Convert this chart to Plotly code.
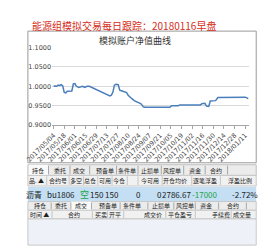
import plotly.graph_objects as go

# ---------------- data ----------------
dates = ["2017-05-04","2017-05-06","2017-05-08","2017-05-10","2017-05-12","2017-05-14",
         "2017-05-16","2017-05-17","2017-05-18","2017-05-20","2017-05-22","2017-05-28",
         "2017-05-30","2017-06-01","2017-06-03","2017-06-06","2017-06-08","2017-06-11",
         "2017-06-14","2017-06-17","2017-06-20","2017-06-23","2017-06-26","2017-06-29",
         "2017-07-02","2017-07-05","2017-07-08","2017-07-11","2017-07-14","2017-07-17",
         "2017-07-19","2017-07-21","2017-07-23","2017-07-25","2017-07-28","2017-07-30",
         "2017-08-02","2017-08-05","2017-08-08","2017-08-10","2017-08-13","2017-08-15",
         "2017-08-18","2017-08-21","2017-08-24","2017-08-27","2017-08-30","2017-09-01",
         "2017-10-04","2017-10-06","2017-10-15","2017-10-17","2017-11-13","2017-11-15",
         "2017-11-19","2017-11-21","2017-11-24","2017-11-26","2017-12-03","2017-12-06",
         "2018-01-11","2018-01-15"]
nav = [1.000,1.001,1.000,1.003,1.002,1.004,
       1.001,0.992,0.984,0.983,0.987,0.988,
       1.006,1.007,1.000,0.997,0.999,1.000,
       0.997,1.000,1.000,0.997,0.995,0.991,
       0.988,0.986,0.983,0.980,0.978,0.975,
       0.977,0.985,1.003,1.005,1.004,0.990,
       0.988,0.986,0.984,0.977,0.973,0.968,
       0.963,0.960,0.957,0.955,0.947,0.946,
       0.946,0.950,0.950,0.952,0.952,0.955,
       0.956,0.949,0.948,0.962,0.963,0.971,
       0.972,0.968]

tick_dates = ["2017-05-04","2017-05-18","2017-06-01","2017-06-15","2017-06-29","2017-07-13",
              "2017-07-27","2017-08-10","2017-08-24","2017-09-07","2017-09-21","2017-10-05",
              "2017-10-19","2017-11-02","2017-11-16","2017-11-30","2017-12-14","2017-12-28",
              "2018-01-11"]
tick_labels = [d.replace("-", "/") for d in tick_dates]

page_title = "能源组模拟交易每日跟踪：20180116早盘"
chart_title = "模拟账户净值曲线"

tabs = ["持仓", "委托", "成交", "预备单", "条件单", "止损单", "风控单", "资金", "合约"]
pos_headers = ["品. ▲", "合约号", "多空", "总仓", "可用", "今仓", "今可用", "开仓均价", "逐笔浮盈", "浮盈比例"]
pos_row = ["沥青", "bu1806", "空", "150", "150", "0", "0", "2786.67", "-17000", "-2.72%"]
deal_headers = ["时间 ▲", "合约", "买卖", "开平", "成交价", "平仓盈亏", "手续费", "成交量"]

# ---------------- layout helpers ----------------
W, H = 258, 252
FONT = "Noto Sans CJK SC"

def px(x):
    return x / W

def py(y):
    return 1 - y / H

shapes = []
annotations = []

def rect(x0, y0, x1, y1, fill, line=None, lw=1):
    shapes.append(dict(type="rect", xref="paper", yref="paper",
                       x0=px(x0), x1=px(x1), y0=py(y1), y1=py(y0),
                       fillcolor=fill, line=dict(color=line or fill, width=lw if line else 0),
                       layer="below"))

def vline(x, y0, y1, color):
    shapes.append(dict(type="line", xref="paper", yref="paper",
                       x0=px(x), x1=px(x), y0=py(y0), y1=py(y1),
                       line=dict(color=color, width=1)))

def text(x, y, s, size=6, color="#222", anchor="center", family=FONT):
    annotations.append(dict(xref="paper", yref="paper", x=px(x), y=py(y), text=s,
                            showarrow=False, xanchor=anchor, yanchor="middle",
                            font=dict(family=family, size=size, color=color)))

# page title
text(3, 22, page_title, size=10, color="#d62d20", anchor="left")

# chart border
shapes.append(dict(type="rect", xref="paper", yref="paper",
                   x0=px(1), x1=px(256), y0=py(164), y1=py(28),
                   line=dict(color="#9a9a9a", width=1), fillcolor="rgba(0,0,0,0)",
                   layer="below"))
text(121, 38, chart_title, size=9, color="#333")

# ---- first tab bar ----
rect(1, 166, 256, 177, "#ececec", "#c0c0c0")
tab_x1 = [12, 37, 58, 87, 112, 137, 162, 188, 211]
seps1 = [24, 48, 70, 100, 124, 150, 175, 199, 224]
rect(2, 166, 24, 177, "#fafafa")
for s in seps1:
    vline(s, 167, 176, "#a8a8a8")
for x, t in zip(tab_x1, tabs):
    text(x, 171.5, t)

# ---- position header ----
rect(1, 177, 256, 188, "#f1f1f1", "#c8c8c8")
hx = [11, 35, 55, 70, 87, 103, 137, 165, 199, 238]
hseps = [22, 47, 63, 79, 95, 112, 124, 151, 184, 216]
for s in hseps:
    vline(s, 178, 187, "#c4c4c4")
for x, t in zip(hx, pos_headers):
    text(x, 182.5, t)

# ---- position data row ----
rect(1, 189, 256, 204, "#c4dff3")
row_x = [8, 38, 64, 78, 95, 124, 148, 167, 199, 243]
row_col = ["#222", "#222", "#1aa34a", "#222", "#222", "#222", "#222", "#222", "#1aa34a", "#222"]
row_size = [8, 8, 9, 8, 8, 8, 8, 8, 8, 8]
for x, t, c, s in zip(row_x, pos_row, row_col, row_size):
    text(x, 197, t, size=s, color=c)

# ---- second tab bar ----
rect(1, 204, 256, 213, "#ececec", "#c8c8c8")
tab_x2 = [15, 38, 60, 90, 117, 150, 176, 200, 230]
seps2 = [27, 49, 72, 104, 135, 164, 188, 214, 245]
rect(49, 204, 72, 213, "#fafafa")
for s in seps2:
    vline(s, 205, 212, "#a8a8a8")
for x, t in zip(tab_x2, tabs):
    text(x, 208.5, t)

# ---- deal header ----
rect(1, 213, 256, 222, "#f1f1f1", "#c8c8c8")
dx = [14, 52, 83, 98, 141, 171, 217, 240]
dseps = [28, 73, 90, 108, 155, 188, 228]
for s in dseps:
    vline(s, 214, 221, "#c4c4c4")
for x, t in zip(dx, deal_headers):
    text(x, 217.5, t)

# ---- empty list area ----
rect(1, 222, 256, 249, "#eef2f8", "#c8c8c8")

# ---------------- figure ----------------
fig = go.Figure()
fig.add_trace(go.Scatter(x=dates, y=nav, mode="lines",
                         line=dict(color="#4a7ebb", width=1.5),
                         hoverinfo="skip", showlegend=False))

fig.update_layout(
    width=W, height=H,
    margin=dict(l=0, r=0, t=0, b=0),
    paper_bgcolor="white", plot_bgcolor="white",
    showlegend=False,
    shapes=shapes, annotations=annotations,
    xaxis=dict(domain=[px(28), px(248)], type="date",
               range=["2017-05-02", "2018-01-16"],
               tickvals=tick_dates, ticktext=tick_labels, tickangle=-45,
               tickfont=dict(family="DejaVu Sans", size=6.5, color="#444"),
               showgrid=False, showline=True, linecolor="#a6a6a6",
               ticks="outside", ticklen=3, tickcolor="#a6a6a6", zeroline=False),
    yaxis=dict(domain=[py(125), py(45)], range=[0.9, 1.1],
               tickvals=[0.9, 0.95, 1.0, 1.05, 1.1], tickformat=".4f",
               tickfont=dict(family="DejaVu Sans", size=6.5, color="#444"),
               showgrid=True, gridcolor="#d9d9d9", gridwidth=1,
               zeroline=False, showline=False, ticks=""),
)

fig.write_html("out.html")
